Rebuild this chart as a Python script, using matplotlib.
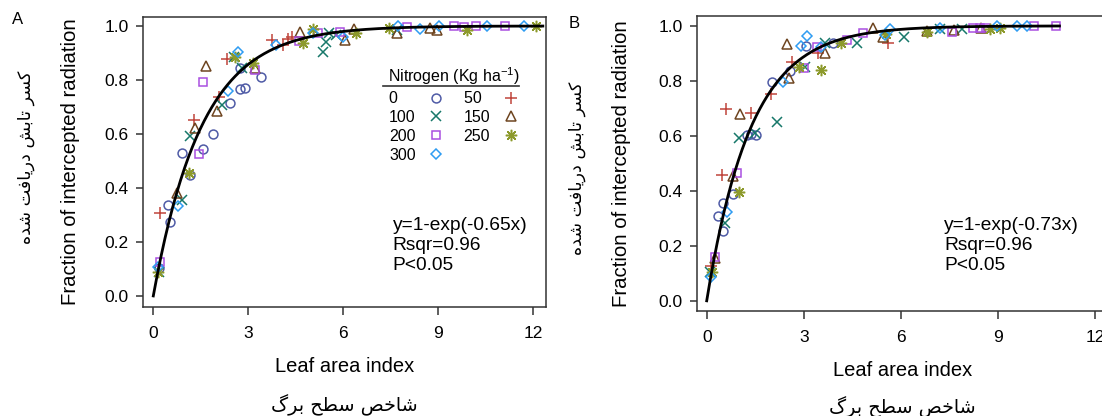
import numpy as np
import matplotlib
matplotlib.use("Agg")
import matplotlib.pyplot as plt

plt.rcParams['font.family'] = ['Liberation Sans', 'DejaVu Sans']
plt.rcParams['mathtext.fontset'] = 'custom'
plt.rcParams['mathtext.rm'] = 'Liberation Sans'
plt.rcParams['mathtext.it'] = 'Liberation Sans:italic'

# Nitrogen rates (Kg ha-1)
N_RATES = [0, 50, 100, 150, 200, 250, 300]

# fitted extinction coefficients, y = 1 - exp(-k * LAI)
K_A = 0.65
K_B = 0.73
LAI_MAX_A = 12.3
LAI_MAX_B = 10.9

# ---- panel A : leaf area index / fraction of intercepted radiation ----
A_LAI_0 = [0.17, 0.45, 0.54, 0.92, 1.16, 1.57, 1.88, 2.41, 2.75, 2.88, 2.74, 3.41]
A_FIR_0 = [0.105, 0.337, 0.275, 0.53, 0.448, 0.546, 0.60, 0.715, 0.765, 0.77, 0.843, 0.811]
A_LAI_50 = [0.21, 1.28, 2.06, 2.34, 3.75, 4.10, 4.25, 4.37]
A_FIR_50 = [0.306, 0.652, 0.736, 0.877, 0.948, 0.930, 0.952, 0.958]
A_LAI_100 = [0.19, 0.92, 1.16, 2.16, 2.55, 2.80, 5.35, 5.45, 5.55, 5.77, 7.68]
A_FIR_100 = [0.09, 0.356, 0.593, 0.707, 0.884, 0.843, 0.905, 0.942, 0.973, 0.967, 0.985]
A_LAI_150 = [0.74, 1.32, 1.66, 2.02, 3.20, 4.62, 6.05, 6.33, 7.71, 8.74, 8.97]
A_FIR_150 = [0.383, 0.621, 0.852, 0.686, 0.845, 0.979, 0.948, 0.988, 0.975, 0.991, 0.985]
A_LAI_200 = [0.21, 1.45, 1.58, 3.20, 4.60, 5.21, 5.89, 8.02, 9.51, 9.81, 10.2, 11.1]
A_FIR_200 = [0.127, 0.526, 0.791, 0.838, 0.945, 0.973, 0.979, 0.995, 1.0, 0.995, 0.998, 1.0]
A_LAI_250 = [0.16, 1.14, 2.57, 3.15, 4.73, 5.03, 6.39, 7.45, 9.92, 12.1]
A_FIR_250 = [0.09, 0.454, 0.885, 0.863, 0.938, 0.988, 0.973, 0.991, 0.985, 0.998]
A_LAI_300 = [0.16, 0.79, 2.37, 2.66, 3.88, 5.05, 6.00, 7.74, 8.41, 9.02, 10.54, 11.72]
A_FIR_300 = [0.109, 0.333, 0.76, 0.905, 0.93, 0.974, 0.96, 1.0, 0.988, 0.998, 1.0, 1.0]

# ---- panel B ----
B_LAI_0 = [0.36, 0.51, 0.51, 0.82, 1.25, 1.38, 1.52, 2.03, 2.57, 3.08, 3.90]
B_FIR_0 = [0.308, 0.357, 0.255, 0.388, 0.602, 0.608, 0.603, 0.795, 0.836, 0.927, 0.937]
B_LAI_50 = [0.12, 0.48, 0.60, 1.36, 2.00, 2.65, 3.45, 5.60]
B_FIR_50 = [0.126, 0.458, 0.699, 0.684, 0.752, 0.867, 0.900, 0.937]
B_LAI_100 = [0.10, 0.57, 1.01, 1.49, 2.18, 3.03, 3.65, 4.65, 6.10, 7.20, 7.90]
B_FIR_100 = [0.106, 0.284, 0.593, 0.609, 0.652, 0.85, 0.937, 0.937, 0.959, 0.988, 0.988]
B_LAI_150 = [0.26, 0.80, 1.03, 2.47, 2.53, 3.66, 5.15, 5.44, 6.81, 7.64, 8.49]
B_FIR_150 = [0.154, 0.455, 0.68, 0.935, 0.81, 0.90, 0.992, 0.961, 0.983, 0.985, 0.991]
B_LAI_200 = [0.26, 0.95, 3.01, 3.40, 4.33, 4.83, 7.58, 8.24, 8.43, 8.63, 10.1, 10.8]
B_FIR_200 = [0.16, 0.466, 0.848, 0.925, 0.95, 0.973, 0.979, 0.991, 0.991, 0.991, 0.998, 0.998]
B_LAI_250 = [0.15, 1.01, 2.86, 3.52, 4.15, 5.55, 6.81, 8.74, 9.07]
B_FIR_250 = [0.106, 0.397, 0.852, 0.84, 0.936, 0.972, 0.979, 0.988, 0.991]
B_LAI_300 = [0.12, 0.62, 2.36, 2.90, 3.09, 3.52, 5.50, 5.66, 7.20, 8.98, 9.59, 9.89]
B_FIR_300 = [0.087, 0.324, 0.797, 0.927, 0.964, 0.923, 0.967, 0.988, 0.991, 0.998, 1.0, 1.0]

A_SERIES = [(A_LAI_0, A_FIR_0), (A_LAI_50, A_FIR_50), (A_LAI_100, A_FIR_100),
            (A_LAI_150, A_FIR_150), (A_LAI_200, A_FIR_200), (A_LAI_250, A_FIR_250),
            (A_LAI_300, A_FIR_300)]
B_SERIES = [(B_LAI_0, B_FIR_0), (B_LAI_50, B_FIR_50), (B_LAI_100, B_FIR_100),
            (B_LAI_150, B_FIR_150), (B_LAI_200, B_FIR_200), (B_LAI_250, B_FIR_250),
            (B_LAI_300, B_FIR_300)]

X_TICKS = [0, 3, 6, 9, 12]
Y_TICKS = [0.0, 0.2, 0.4, 0.6, 0.8, 1.0]

COLORS = ['#4f5ba6', '#c0453c', '#17786a', '#6e4520', '#a94fe0', '#8d9a2c', '#2e9cf2']
MARKERS = [dict(marker='o', ms=6.4, mfc='none'),
           dict(marker='+', ms=8.2),
           dict(marker='x', ms=6.7),
           dict(marker='^', ms=7.0, mfc='none'),
           dict(marker='s', ms=6.4, mfc='none'),
           dict(marker=(8, 2, 0), ms=8.2),
           dict(marker='D', ms=5.4, mfc='none')]

FRAME = '#333333'

# Persian text: matplotlib has no Arabic shaping, so pick presentation forms by hand
FORMS = {
    'ا': ('\uFE8D', '\uFE8E', None, None),
    'ب': ('\uFE8F', '\uFE90', '\uFE91', '\uFE92'),
    'ت': ('\uFE95', '\uFE96', '\uFE97', '\uFE98'),
    'ح': ('\uFEA1', '\uFEA2', '\uFEA3', '\uFEA4'),
    'خ': ('\uFEA5', '\uFEA6', '\uFEA7', '\uFEA8'),
    'د': ('\uFEA9', '\uFEAA', None, None),
    'ر': ('\uFEAD', '\uFEAE', None, None),
    'س': ('\uFEB1', '\uFEB2', '\uFEB3', '\uFEB4'),
    'ش': ('\uFEB5', '\uFEB6', '\uFEB7', '\uFEB8'),
    'ص': ('\uFEB9', '\uFEBA', '\uFEBB', '\uFEBC'),
    'ط': ('\uFEC1', '\uFEC2', '\uFEC3', '\uFEC4'),
    'ف': ('\uFED1', '\uFED2', '\uFED3', '\uFED4'),
    'ه': ('\uFEE9', '\uFEEA', '\uFEEB', '\uFEEC'),
    'ک': ('\uFB8E', '\uFB8F', '\uFB90', '\uFB91'),
    'گ': ('\uFB92', '\uFB93', '\uFB94', '\uFB95'),
    'ی': ('\uFBFC', '\uFBFD', '\uFBFE', '\uFBFF'),
}


def fa(text):
    out = []
    for i, ch in enumerate(text):
        if ch not in FORMS:
            out.append(ch)
            continue
        prev = text[i - 1] if i > 0 else ''
        nxt = text[i + 1] if i + 1 < len(text) else ''
        iso, fin, ini, med = FORMS[ch]
        j_prev = prev in FORMS and FORMS[prev][2] is not None
        j_next = ini is not None and nxt in FORMS
        if j_prev and j_next:
            out.append(med)
        elif j_prev:
            out.append(fin)
        elif j_next:
            out.append(ini)
        else:
            out.append(iso)
    return ''.join(reversed(out))


FA_Y = fa('کسر تابش دریافت شده')
FA_X = fa('شاخص سطح برگ')

W, H = 1102, 416
fig = plt.figure(figsize=(W / 100, H / 100), dpi=100)


def px_axes(left, right, top, bottom):
    return fig.add_axes([left / W, 1 - bottom / H, (right - left) / W, (bottom - top) / H])


def draw_panel(ax, series, k, lai_max, xlim, ylim):
    for (xs, ys), col, mk, n in zip(series, COLORS, MARKERS, N_RATES):
        ax.plot(xs, ys, ls='none', color=col, mec=col, mew=1.1, label=str(n), **mk)
    xx = np.linspace(0, lai_max, 300)
    ax.plot(xx, 1 - np.exp(-k * xx), color='black', lw=2.0, zorder=5)
    ax.set_xlim(*xlim)
    ax.set_ylim(*ylim)
    ax.set_xticks(X_TICKS)
    ax.set_yticks(Y_TICKS)
    ax.set_yticklabels([f'{v:.1f}' for v in Y_TICKS])
    for s in ax.spines.values():
        s.set_color(FRAME)
        s.set_linewidth(1.1)
    ax.tick_params(axis='x', direction='out', length=5.8, width=1.1, pad=8.0,
                   labelsize=12.5, color=FRAME)
    ax.tick_params(axis='y', direction='out', length=5.0, width=1.1, pad=5.5,
                   labelsize=12.5, color=FRAME)
    ax.set_xlabel('Leaf area index', fontsize=14.5)
    ax.set_ylabel('Fraction of intercepted radiation', fontsize=14.7)
    ax.xaxis.label.set_va('center')
    ax.yaxis.label.set_va('center')
    ax.yaxis.label.set_ha('center')


# panel A
axA = px_axes(143, 546, 16.5, 307)
draw_panel(axA, A_SERIES, K_A, LAI_MAX_A, (-0.325, 12.4), (-0.041, 1.035))
axA.xaxis.set_label_coords(0.5, -0.2065)
axA.yaxis.set_label_coords(-0.1787, 0.5)
axA.text(0.5, -0.337, FA_X, transform=axA.transAxes, ha='center', va='center',
         fontsize=13.8, family='DejaVu Sans')
axA.text(-0.290, 0.516, FA_Y, transform=axA.transAxes, ha='center', va='center',
         rotation=90, fontsize=12.6, family='DejaVu Sans')
axA.text(0.62, 0.211, f'y=1-exp(-{K_A:.2f}x)\nRsqr=0.96\nP<0.05', transform=axA.transAxes,
         ha='left', va='center', fontsize=13.8, linespacing=1.22)

# legend: labels left, symbols right, two columns
order = [0, 2, 4, 6, 1, 3, 5]
handles, labels = axA.get_legend_handles_labels()
pad_lab = {'0': '0\u2007\u2007', '50': '50\u2007'}
leg = axA.legend([handles[i] for i in order],
                 [pad_lab.get(labels[i], labels[i]) for i in order],
                 ncol=2, markerfirst=False, frameon=False, numpoints=1,
                 title='Nitrogen (Kg ha$^{-1}$)', fontsize=11.5, title_fontsize=11.5,
                 loc='upper left', bbox_to_anchor=(0.608, 0.831), borderpad=0,
                 borderaxespad=0, handlelength=1.0, handletextpad=0.8,
                 columnspacing=1.2, labelspacing=0.24)
axA.plot([0.5955, 0.933], [0.7608, 0.7608], transform=axA.transAxes, color=FRAME,
         lw=1.2, clip_on=False)

# panel B (runs off the right edge of the figure)
axB = px_axes(697, 1108, 16, 310.7)
draw_panel(axB, B_SERIES, K_B, LAI_MAX_B, (-0.3, 12.4), (-0.036, 1.036))
axB.xaxis.set_label_coords(0.5, -0.2046)
axB.yaxis.set_label_coords(-0.1825, 0.5)
axB.text(0.5, -0.327, FA_X, transform=axB.transAxes, ha='center', va='center',
         fontsize=13.8, family='DejaVu Sans')
axB.text(-0.292, 0.484, FA_Y, transform=axB.transAxes, ha='center', va='center',
         rotation=90, fontsize=12.6, family='DejaVu Sans')
axB.text(0.601, 0.2206, f'y=1-exp(-{K_B:.2f}x)\nRsqr=0.96\nP<0.05', transform=axB.transAxes,
         ha='left', va='center', fontsize=13.8, linespacing=1.22)

fig.text(18 / W, 1 - 19 / H, 'A', ha='center', va='center', fontsize=12)
fig.text(574 / W, 1 - 23 / H, 'B', ha='center', va='center', fontsize=12)

fig.savefig('out.png', dpi=100)
